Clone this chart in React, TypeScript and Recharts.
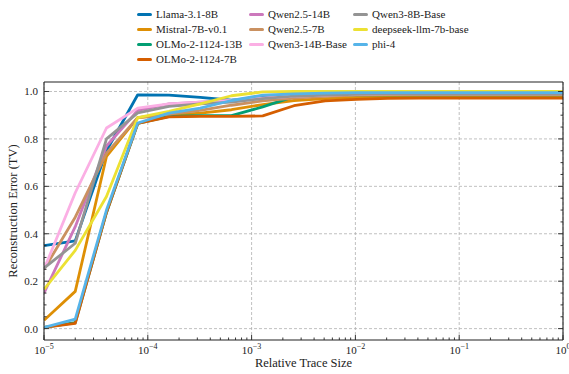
import React from "react";
import {
  CartesianGrid,
  Line,
  LineChart,
  XAxis,
  YAxis,
} from "recharts";

// trace sizes (fraction of the full trace), doubling from 1e-5
const TRACE_SIZES = [
  1e-5, 2e-5, 4e-5, 8e-5, 1.6e-4, 3.2e-4, 6.4e-4, 1.28e-3, 2.56e-3, 5.12e-3,
  1.024e-2, 2.048e-2, 4.096e-2, 8.192e-2, 0.16384, 0.32768, 0.65536, 1,
];

const LLAMA_31_8B = [0.35, 0.37, 0.75, 0.986, 0.985, 0.975, 0.963, 0.975, 0.983, 0.987, 0.99, 0.99, 0.99, 0.99, 0.99, 0.99, 0.99, 0.99];
const MISTRAL_7B = [0.035, 0.157, 0.726, 0.89, 0.9, 0.909, 0.923, 0.945, 0.962, 0.97, 0.975, 0.978, 0.979, 0.98, 0.98, 0.98, 0.98, 0.98];
const OLMO_13B = [0.005, 0.025, 0.49, 0.865, 0.895, 0.898, 0.898, 0.935, 0.978, 0.985, 0.986, 0.986, 0.986, 0.986, 0.986, 0.986, 0.986, 0.986];
const OLMO_7B = [0.005, 0.022, 0.49, 0.865, 0.893, 0.895, 0.895, 0.897, 0.94, 0.96, 0.967, 0.971, 0.972, 0.972, 0.972, 0.972, 0.972, 0.972];
const QWEN25_14B = [0.15, 0.43, 0.77, 0.92, 0.948, 0.955, 0.962, 0.972, 0.98, 0.985, 0.988, 0.99, 0.99, 0.99, 0.99, 0.99, 0.99, 0.99];
const QWEN25_7B = [0.25, 0.47, 0.74, 0.89, 0.905, 0.92, 0.942, 0.96, 0.972, 0.98, 0.985, 0.987, 0.988, 0.988, 0.988, 0.988, 0.988, 0.988];
const QWEN3_14B = [0.25, 0.573, 0.846, 0.93, 0.948, 0.955, 0.962, 0.972, 0.98, 0.985, 0.988, 0.99, 0.99, 0.99, 0.99, 0.99, 0.99, 0.99];
const QWEN3_8B = [0.255, 0.36, 0.8, 0.91, 0.937, 0.948, 0.955, 0.97, 0.98, 0.985, 0.988, 0.99, 0.99, 0.99, 0.99, 0.99, 0.99, 0.99];
const DEEPSEEK_7B = [0.165, 0.33, 0.557, 0.89, 0.916, 0.948, 0.982, 0.998, 1.0, 1.0, 1.0, 1.0, 1.0, 1.0, 1.0, 1.0, 1.0, 1.0];
const PHI_4 = [0.005, 0.04, 0.5, 0.867, 0.909, 0.93, 0.962, 0.985, 0.99, 0.993, 0.995, 0.995, 0.995, 0.995, 0.995, 0.995, 0.995, 0.995];

const SERIES = [
  { key: "llama", name: "Llama-3.1-8B", color: "#0173b2", values: LLAMA_31_8B },
  { key: "mistral", name: "Mistral-7B-v0.1", color: "#de8f05", values: MISTRAL_7B },
  { key: "olmo13", name: "OLMo-2-1124-13B", color: "#029e73", values: OLMO_13B },
  { key: "olmo7", name: "OLMo-2-1124-7B", color: "#d55e00", values: OLMO_7B },
  { key: "qwen25_14", name: "Qwen2.5-14B", color: "#cc78bc", values: QWEN25_14B },
  { key: "qwen25_7", name: "Qwen2.5-7B", color: "#ca9161", values: QWEN25_7B },
  { key: "qwen3_14", name: "Qwen3-14B-Base", color: "#fbafe4", values: QWEN3_14B },
  { key: "qwen3_8", name: "Qwen3-8B-Base", color: "#949494", values: QWEN3_8B },
  { key: "deepseek", name: "deepseek-llm-7b-base", color: "#ece133", values: DEEPSEEK_7B },
  { key: "phi4", name: "phi-4", color: "#56b4e9", values: PHI_4 },
];

const X_MAJOR = [1e-5, 1e-4, 1e-3, 1e-2, 1e-1, 1];
const X_EXPONENTS = ["\u22125", "\u22124", "\u22123", "\u22122", "\u22121", "0"];
const X_MINOR = [-5, -4, -3, -2, -1].flatMap((e) =>
  [2, 3, 4, 5, 6, 7, 8, 9].map((m) => m * Math.pow(10, e))
);
const X_ALL = [...X_MAJOR, ...X_MINOR].sort((a, b) => a - b);
const Y_MAJOR = [0, 0.2, 0.4, 0.6, 0.8, 1.0];
const Y_MINOR = [0.05, 0.1, 0.15, 0.25, 0.3, 0.35, 0.45, 0.5, 0.55, 0.65, 0.7, 0.75, 0.85, 0.9, 0.95];
const Y_ALL = [...Y_MAJOR, ...Y_MINOR].sort((a, b) => a - b);

const rows = TRACE_SIZES.map((x, i) => {
  const row: Record<string, number> = { x };
  SERIES.forEach((s) => (row[s.key] = s.values[i]));
  return row;
});

const FONT = "'Liberation Serif', 'Times New Roman', serif";
const INK = "#222";
const W = 569;
const H = 374;
const X_DOMAIN: [number, number] = [1e-5, 1];
const Y_DOMAIN: [number, number] = [-0.048, 1.04];
const MAJOR_LEN = 5;
const MINOR_LEN = 2.5;

const majorIndex = (list: number[], v: number) =>
  list.findIndex((m) => Math.abs(m - v) <= Math.abs(m) * 1e-9 + 1e-12);

// inward tick marks on all four sides; labels only on bottom/left
function BottomTick(props: any) {
  const { x, y, payload } = props;
  const i = majorIndex(X_MAJOR, payload.value);
  const major = i >= 0;
  return (
    <g>
      <line x1={x} x2={x} y1={y} y2={y - (major ? MAJOR_LEN : MINOR_LEN)} stroke={INK} strokeWidth={0.9} />
      {major && (
        <text x={x} y={y + 14} textAnchor="middle" fontFamily={FONT} fontSize={11} fill={INK}>
          10
          <tspan dy={-5} fontSize={8}>
            {X_EXPONENTS[i]}
          </tspan>
        </text>
      )}
    </g>
  );
}

function TopTick(props: any) {
  const { x, y, payload } = props;
  const major = majorIndex(X_MAJOR, payload.value) >= 0;
  return <line x1={x} x2={x} y1={y} y2={y + (major ? MAJOR_LEN : MINOR_LEN)} stroke={INK} strokeWidth={0.9} />;
}

function LeftTick(props: any) {
  const { x, y, payload } = props;
  const major = majorIndex(Y_MAJOR, payload.value) >= 0;
  return (
    <g>
      <line x1={x} x2={x + (major ? MAJOR_LEN : MINOR_LEN)} y1={y} y2={y} stroke={INK} strokeWidth={0.9} />
      {major && (
        <text x={x - 6} y={y + 4} textAnchor="end" fontFamily={FONT} fontSize={11} fill={INK}>
          {payload.value.toFixed(1)}
        </text>
      )}
    </g>
  );
}

function RightTick(props: any) {
  const { x, y, payload } = props;
  const major = majorIndex(Y_MAJOR, payload.value) >= 0;
  return <line x1={x} x2={x - (major ? MAJOR_LEN : MINOR_LEN)} y1={y} y2={y} stroke={INK} strokeWidth={0.9} />;
}

const LEGEND_COLS = [137, 249, 353];
const LEGEND_ROWS = [14, 29, 44, 59];
const LEGEND_LAYOUT = [
  [0, 0], [0, 1], [0, 2], [0, 3],
  [1, 0], [1, 1], [1, 2],
  [2, 0], [2, 1], [2, 2],
];

export default function App() {
  const xCommon = {
    type: "number" as const,
    scale: "log" as const,
    domain: X_DOMAIN,
    allowDataOverflow: true,
    interval: 0 as const,
    ticks: X_ALL,
    tickSize: 0,
    tickMargin: 0,
    tickLine: false,
    axisLine: { stroke: INK, strokeWidth: 1.1 },
  };
  const yCommon = {
    type: "number" as const,
    domain: Y_DOMAIN,
    allowDataOverflow: true,
    interval: 0 as const,
    ticks: Y_ALL,
    tickSize: 0,
    tickMargin: 0,
    tickLine: false,
    axisLine: { stroke: INK, strokeWidth: 1.1 },
  };

  return (
    <div style={{ position: "absolute", left: 0, top: 0, width: W, height: H, background: "#fff" }}>
      <LineChart
        width={W}
        height={H}
        data={rows}
        margin={{ top: 80, right: 4, bottom: 4, left: 4 }}
      >
        <CartesianGrid stroke="#b0b0b0" strokeDasharray="3 2" strokeWidth={0.8} horizontalValues={Y_MAJOR} verticalValues={X_MAJOR} />
        <XAxis {...xCommon} dataKey="x" height={30} tick={<BottomTick />} />
        <XAxis {...xCommon} xAxisId="top" orientation="top" height={2} tick={<TopTick />} />
        <YAxis {...yCommon} width={40} tick={<LeftTick />} />
        <YAxis {...yCommon} yAxisId="right" orientation="right" width={2} tick={<RightTick />} />
        {SERIES.map((s) => (
          <Line
            key={s.key}
            dataKey={s.key}
            name={s.name}
            type="linear"
            stroke={s.color}
            strokeWidth={2.8}
            strokeLinejoin="round"
            dot={false}
            isAnimationActive={false}
          />
        ))}
      </LineChart>

      {SERIES.map((s, i) => {
        const [c, r] = LEGEND_LAYOUT[i];
        return (
          <div
            key={s.key}
            style={{
              position: "absolute",
              left: LEGEND_COLS[c],
              top: LEGEND_ROWS[r] - 7,
              height: 14,
              display: "flex",
              alignItems: "center",
              fontFamily: FONT,
              fontSize: 11,
              color: INK,
              whiteSpace: "nowrap",
            }}
          >
            <span
              style={{
                display: "inline-block",
                width: 15,
                height: 3,
                borderRadius: 1.5,
                background: s.color,
                marginRight: 4,
              }}
            />
            {s.name}
          </div>
        );
      })}

      <div
        style={{
          position: "absolute",
          left: 0,
          width: W,
          top: 356,
          textAlign: "center",
          paddingLeft: 38,
          boxSizing: "border-box",
          fontFamily: FONT,
          fontSize: 12.5,
          lineHeight: "15px",
          color: INK,
        }}
      >
        Relative Trace Size
      </div>
      <div
        style={{
          position: "absolute",
          left: 13,
          top: 211,
          transform: "translate(-50%, -50%) rotate(-90deg)",
          fontFamily: FONT,
          fontSize: 12.5,
          color: INK,
          whiteSpace: "nowrap",
        }}
      >
        Reconstruction Error (TV)
      </div>
    </div>
  );
}
